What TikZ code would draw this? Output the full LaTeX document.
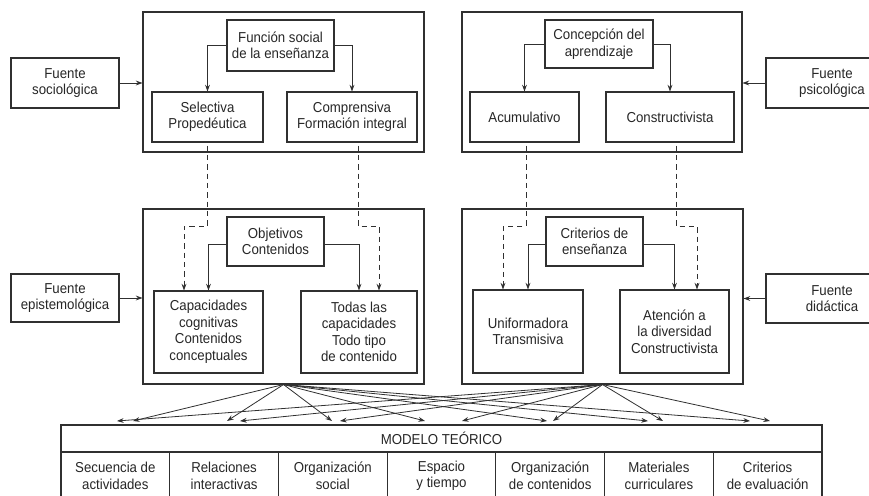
\documentclass[tikz,border=0pt]{standalone}
\usepackage{fontspec}
\setmainfont[FakeStretch=0.92]{Liberation Sans}
\usetikzlibrary{arrows.meta, calc}
\definecolor{linegray}{HTML}{303030}
\tikzset{
    my-size/.style 2 args={
        minimum width=#1*0.75pt, minimum height=#2*0.75pt
    },
    my-frame/.style={
        draw=linegray, line width=0.8pt, inner sep=0pt
    },
    my-box/.style={
        draw=linegray, line width=0.8pt, align=center, inner sep=2pt,
        font=\fontsize{10.8}{12.4}\selectfont, text=black!85
    },
    my-arrow/.style={
        draw=linegray, line width=0.6pt, -{Stealth[length=5pt, width=3.6pt]}
    },
    my-dashed-arrow/.style={
        my-arrow, dash pattern=on 4pt off 3pt
    },
}

\begin{document}
\begin{tikzpicture}[x=0.75pt, y=-0.75pt]
        \useasboundingbox (0,0) rectangle (869,496);

        % OUTER FRAMES
        \node[my-frame, my-size={281}{140}] (SOCBOX) at (283.5, 82)    {};
        \node[my-frame, my-size={280}{140}] (PSIBOX) at (602, 82)      {};
        \node[my-frame, my-size={281}{175}] (EPIBOX) at (283.5, 296.5) {};
        \node[my-frame, my-size={281}{175}] (DIDBOX) at (602.5, 296.5) {};

        % SOURCES
        \node[my-box, my-size={108}{50}] (FSOC) at (65, 83)    {Fuente\\sociológica};
        \node[my-box, my-size={132}{50}] (FPSI) at (832, 83)   {Fuente\\psicológica};
        \node[my-box, my-size={108}{48}] (FEPI) at (65, 298)   {Fuente\\epistemológica};
        \node[my-box, my-size={132}{49}] (FDID) at (832, 298.5) {Fuente\\didáctica};

        % TOP LEFT: FUNCION SOCIAL
        \node[my-box, my-size={107}{51}] (FUNC)  at (280.5, 45.5) {Función social\\de la enseñanza};
        \node[my-box, my-size={111}{50}] (SELEC) at (207.5, 117)  {Selectiva\\Propedéutica};
        \node[my-box, my-size={130}{50}] (COMPR) at (352, 117)    {Comprensiva\\Formación integral};

        % TOP RIGHT: CONCEPCION DEL APRENDIZAJE
        \node[my-box, my-size={108}{48}] (CONC)  at (599, 44)     {Concepción del\\aprendizaje};
        \node[my-box, my-size={109}{50}] (ACUM)  at (524.5, 117)  {Acumulativo};
        \node[my-box, my-size={128}{50}] (CONST) at (670, 117)    {Constructivista};

        % MIDDLE LEFT: OBJETIVOS
        \node[my-box, my-size={97}{49}]  (OBJ)   at (275.5, 241.5) {Objetivos\\Contenidos};
        \node[my-box, my-size={109}{82}] (CAPAC) at (208.5, 332)   {Capacidades\\cognitivas\\Contenidos\\conceptuales};
        \node[my-box, my-size={116}{82}] (TODAS) at (359, 332)     {Todas las\\capacidades\\Todo tipo\\de contenido};

        % MIDDLE RIGHT: CRITERIOS DE ENSEÑANZA
        \node[my-box, my-size={97}{49}]  (CRIT)  at (594.5, 241.5) {Criterios de\\enseñanza};
        \node[my-box, my-size={110}{83}] (UNIF)  at (528, 331.5)   {Uniformadora\\Transmisiva};
        \node[my-box, my-size={109}{83}] (ATEN)  at (674.5, 331.5) {Atención a\\la diversidad\\Constructivista};

        % MODELO TEORICO TABLE
        \node[my-box, my-size={761}{27}]    (MODELO) at (441.5, 438.5) {MODELO TEÓRICO};
        \node[my-box, my-size={108.71}{48}] (CELL1)  at (115.36, 476)  {Secuencia de\\actividades};
        \node[my-box, my-size={108.71}{48}] (CELL2)  at (224.07, 476)  {Relaciones\\interactivas};
        \node[my-box, my-size={108.71}{48}] (CELL3)  at (332.79, 476)  {Organización\\social};
        \node[my-box, my-size={108.71}{48}] (CELL4)  at (441.5, 476)   {Espacio\\y tiempo};
        \node[my-box, my-size={108.71}{48}] (CELL5)  at (550.21, 476)  {Organización\\de contenidos};
        \node[my-box, my-size={108.71}{48}] (CELL6)  at (658.93, 476)  {Materiales\\curriculares};
        \node[my-box, my-size={108.71}{48}] (CELL7)  at (767.64, 476)  {Criterios\\de evaluación};

        % SOURCE ARROWS
        \draw[my-arrow] (FSOC.east) -- (FSOC.east -| SOCBOX.west);
        \draw[my-arrow] (FPSI.west) -- (FPSI.west -| PSIBOX.east);
        \draw[my-arrow] (FEPI.east) -- (FEPI.east -| EPIBOX.west);
        \draw[my-arrow] (FDID.west) -- (FDID.west -| DIDBOX.east);

        % INNER ARROWS
        \draw[my-arrow] (FUNC.west) -| (SELEC.north);
        \draw[my-arrow] (FUNC.east) -| (COMPR.north);
        \draw[my-arrow] (CONC.west) -| (ACUM.north);
        \draw[my-arrow] (CONC.east) -| (CONST.north);
        \draw[my-arrow] ($(OBJ.west)+(0,3)$)  -| (CAPAC.north);
        \draw[my-arrow] ($(OBJ.east)+(0,3)$)  -| (TODAS.north);
        \draw[my-arrow] ($(CRIT.west)+(0,3)$) -| (UNIF.north);
        \draw[my-arrow] ($(CRIT.east)+(0,3)$) -| (ATEN.north);

        % DASHED LINKS BETWEEN LEVELS
        \coordinate (DASH1) at (184, 226);
        \coordinate (DASH2) at (379, 226);
        \coordinate (DASH3) at (503, 226);
        \coordinate (DASH4) at (697, 226);
        \draw[my-dashed-arrow] ($(SELEC.south)+(0,3)$)   |- (DASH1) -- (DASH1 |- CAPAC.north);
        \draw[my-dashed-arrow] ($(COMPR.south)+(6,3)$)   |- (DASH2) -- (DASH2 |- TODAS.north);
        \draw[my-dashed-arrow] ($(ACUM.south)+(1.5,3)$)  |- (DASH3) -- (DASH3 |- UNIF.north);
        \draw[my-dashed-arrow] ($(CONST.south)+(6,3)$)   |- (DASH4) -- (DASH4 |- ATEN.north);

        % FAN ENDS ABOVE THE TABLE
        \coordinate (EPI1) at (133, 421);
        \coordinate (EPI2) at (227, 421);
        \coordinate (EPI3) at (332, 421);
        \coordinate (EPI4) at (425, 421);
        \coordinate (EPI5) at (547, 421);
        \coordinate (EPI6) at (648, 421);
        \coordinate (EPI7) at (750, 421);
        \coordinate (DID1) at (117, 421);
        \coordinate (DID2) at (240, 421);
        \coordinate (DID3) at (340, 421);
        \coordinate (DID4) at (462, 421);
        \coordinate (DID5) at (553, 421);
        \coordinate (DID6) at (663, 421);
        \coordinate (DID7) at (770, 421);

        % FAN ARROWS
        \draw[my-arrow] (EPIBOX.south) -- (EPI1);
        \draw[my-arrow] (EPIBOX.south) -- (EPI2);
        \draw[my-arrow] (EPIBOX.south) -- (EPI3);
        \draw[my-arrow] (EPIBOX.south) -- (EPI4);
        \draw[my-arrow] (EPIBOX.south) -- (EPI5);
        \draw[my-arrow] (EPIBOX.south) -- (EPI6);
        \draw[my-arrow] (EPIBOX.south) -- (EPI7);
        \draw[my-arrow] (DIDBOX.south) -- (DID1);
        \draw[my-arrow] (DIDBOX.south) -- (DID2);
        \draw[my-arrow] (DIDBOX.south) -- (DID3);
        \draw[my-arrow] (DIDBOX.south) -- (DID4);
        \draw[my-arrow] (DIDBOX.south) -- (DID5);
        \draw[my-arrow] (DIDBOX.south) -- (DID6);
        \draw[my-arrow] (DIDBOX.south) -- (DID7);

\end{tikzpicture}
\end{document}
